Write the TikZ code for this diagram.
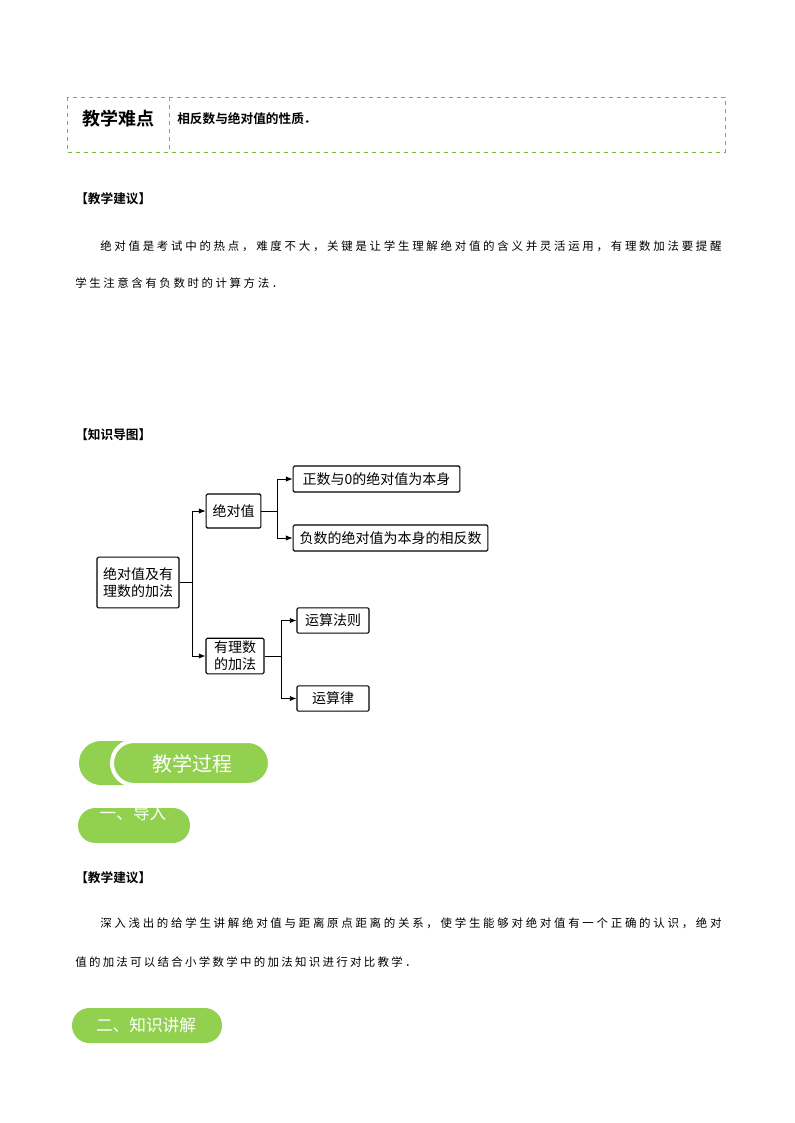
\documentclass[tikz,border=0pt]{standalone}
\usepackage{fontspec}
\usetikzlibrary{arrows.meta}
\setmainfont{Noto Sans CJK SC}
\newfontfamily\cjk{Noto Sans CJK SC}
\newfontfamily\cjkb{Noto Sans CJK SC Bold}
\definecolor{lgreen}{HTML}{92D050}
\definecolor{dgreen}{HTML}{7FB040}
\def\spreadchars#1{\spreadF#1\relax}
\def\spreadF#1{#1\spreadA}
\def\spreadA#1{\ifx#1\relax\else\hfill#1\expandafter\spreadA\fi}
\newcommand\jline[2]{\hbox to #1{\spreadchars{#2}}}
\begin{document}
\begin{tikzpicture}[x=0.75pt,y=-0.75pt,
  mbox/.style={draw,rounded corners=1pt,line width=0.8pt,inner sep=2pt,font=\fontsize{10.5pt}{13pt}\selectfont,align=center},
  conn/.style={line width=0.7pt},
  arr/.style={line width=0.7pt,-{Latex[length=5pt,width=4pt]}},
  para/.style={anchor=west,inner sep=0,font=\fontsize{8.6pt}{10pt}\selectfont},
  head/.style={anchor=west,inner sep=0,font=\cjkb\fontsize{9.5pt}{11pt}\selectfont},
  pilltext/.style={text=white,inner sep=0}]
\useasboundingbox (0,0) rectangle (794,1123);
\fill[white] (0,0) rectangle (794,1123);
% table
\draw[dgreen,dashed,line width=0.7pt] (67,97) rectangle (725,152);
\draw[dgreen,dashed,line width=0.7pt] (169,97) -- (169,152);
\node[inner sep=0,font=\cjkb\fontsize{13.5pt}{15pt}\selectfont] (t1) at (118,119) {教学难点};
\node[head,font=\cjkb\fontsize{9.5pt}{11pt}\selectfont] (t2) at (177,119) {相反数与绝对值的性质．};
% suggestion 1
\node[head] (h1) at (75,199) {【教学建议】};
\node[para] (p1) at (100,246) {\jline{466pt}{绝对值是考试中的热点，难度不大，关键是让学生理解绝对值的含义并灵活运用，有理数加法要提醒}};
\node[para] (p2) at (75,283) {\jline{156pt}{学生注意含有负数时的计算方法．}};
% mind map
\node[head] (h2) at (75,435) {【知识导图】};
\node[mbox,minimum width=61.5pt,minimum height=38pt] (root) at (138,582.5) {绝对值及有\\理数的加法};
\node[mbox,minimum width=41pt,minimum height=25.5pt] (a) at (233.5,511) {绝对值};
\node[mbox,minimum width=125pt,minimum height=19.5pt] (a1) at (376.5,479) {正数与0的绝对值为本身};
\node[mbox,minimum width=146pt,minimum height=19.5pt] (a2) at (390.5,538) {负数的绝对值为本身的相反数};
\node[mbox,minimum width=43.5pt,minimum height=25.5pt] (b) at (235,656) {有理数\\的加法};
\node[mbox,minimum width=54pt,minimum height=19pt] (b1) at (333,620.5) {运算法则};
\node[mbox,minimum width=54pt,minimum height=19pt] (b2) at (333,698.5) {运算律};
\coordinate (j0) at (192,582.5);
\coordinate (j1) at (277,511);
\coordinate (j2) at (281,656);
\draw[conn] (root.east) -- (j0);
\draw[arr] (j0) |- (a.west);
\draw[arr] (j0) |- (b.west);
\draw[conn] (a.east) -- (j1);
\draw[arr] (j1) |- (a1.west);
\draw[arr] (j1) |- (a2.west);
\draw[conn] (b.east) -- (j2);
\draw[arr] (j2) |- (b1.west);
\draw[arr] (j2) |- (b2.west);
% banners
\fill[lgreen,rounded corners=16.5pt] (79,741) rectangle (200,785);
\draw[white,line width=3pt,fill=lgreen,rounded corners=16.5pt] (112,741) rectangle (270,785);
\node[pilltext,font=\fontsize{15pt}{17pt}\selectfont] (g1) at (192,764) {教学过程};
\begin{scope}
\clip[rounded corners=13pt] (78,808) rectangle (190,843);
\fill[lgreen] (78,808) rectangle (190,843);
\node[pilltext,font=\fontsize{12.5pt}{14pt}\selectfont] (g2) at (133,813) {一、导入};
\end{scope}
\node[head] (h3) at (75,878) {【教学建议】};
\node[para] (p3) at (100,923) {\jline{466pt}{深入浅出的给学生讲解绝对值与距离原点距离的关系，使学生能够对绝对值有一个正确的认识，绝对}};
\node[para] (p4) at (75,962) {\jline{256pt}{值的加法可以结合小学数学中的加法知识进行对比教学．}};
\fill[lgreen,rounded corners=13pt] (72,1008) rectangle (222,1043);
\node[pilltext,font=\fontsize{12.5pt}{14pt}\selectfont] (g3) at (146,1025) {二、知识讲解};
\end{tikzpicture}
\end{document}
